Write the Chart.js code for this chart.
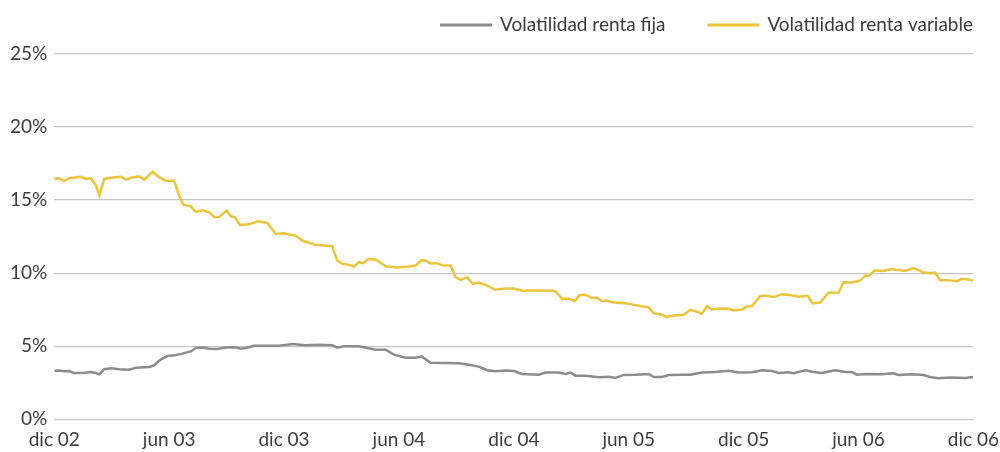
<!DOCTYPE html>
<html>
<head>
<meta charset="utf-8">
<script src="https://cdn.jsdelivr.net/npm/chart.js@4"></script>
<style>
  html, body { margin: 0; padding: 0; background: #fff; }
  #wrap { width: 1000px; height: 452px; }
</style>
</head>
<body>
<div id="wrap"><canvas id="volChart"></canvas></div>
<script>
// months counted from dic 02 (0) to dic 06 (48)
const tickLabels = ['dic 02', 'jun 03', 'dic 03', 'jun 04', 'dic 04', 'jun 05', 'dic 05', 'jun 06', 'dic 06'];

const fijaMonths = [
  0, 0.26, 0.52, 0.78, 1.04, 1.48, 1.91, 2.18, 2.35, 2.61, 2.96, 3.39, 3.91, 4.26, 4.96, 5.22,
  5.57, 5.91, 6.26, 6.69, 7.13, 7.39, 7.74, 8.09, 8.52, 8.96, 9.48, 9.74, 10.0, 10.43, 11.04,
  11.74, 12.17, 12.43, 13.13, 13.83, 14.52, 14.78, 15.13, 15.91, 16.17, 16.78, 17.31, 17.74,
  18.35, 18.87, 19.18, 19.65, 20.43, 21.13, 21.56, 22.17, 22.61, 23.04, 23.57, 24.0, 24.43,
  25.3, 25.65, 26.35, 26.7, 26.96, 27.22, 27.74, 28.43, 28.96, 29.3, 29.74, 30.35, 31.04,
  31.3, 31.74, 32.09, 32.78, 33.22, 33.82, 34.52, 35.22, 35.74, 36.43, 36.96, 37.48, 37.83,
  38.35, 38.61, 39.22, 39.65, 40.09, 40.78, 41.3, 41.65, 41.91, 42.35, 43.22, 43.83, 44.09,
  44.78, 45.39, 45.74, 46.17, 46.87, 47.57, 48.0
];
const fijaValues = [
  3.32, 3.33, 3.28, 3.3, 3.16, 3.16, 3.23, 3.16, 3.07, 3.42, 3.48, 3.42, 3.39, 3.53, 3.57, 3.69,
  4.1, 4.32, 4.37, 4.49, 4.64, 4.87, 4.9, 4.83, 4.81, 4.9, 4.92, 4.83, 4.87, 5.03, 5.03,
  5.03, 5.1, 5.14, 5.06, 5.1, 5.06, 4.9, 5.0, 5.0, 4.92, 4.76, 4.76, 4.42,
  4.21, 4.21, 4.3, 3.87, 3.85, 3.83, 3.74, 3.6, 3.35, 3.28, 3.33, 3.3, 3.1,
  3.05, 3.19, 3.19, 3.1, 3.19, 2.98, 2.98, 2.87, 2.9, 2.82, 3.03, 3.05, 3.1,
  2.89, 2.89, 3.03, 3.05, 3.05, 3.19, 3.23, 3.32, 3.2, 3.21, 3.35, 3.3, 3.16,
  3.21, 3.14, 3.35, 3.23, 3.16, 3.35, 3.23, 3.23, 3.05, 3.1, 3.08, 3.14, 3.03,
  3.08, 3.03, 2.89, 2.8, 2.85, 2.82, 2.89
];

const variableMonths = [
  0, 0.26, 0.52, 0.78, 1.39, 1.65, 1.91, 2.18, 2.35, 2.61, 2.96, 3.48, 3.77, 4.0, 4.43, 4.7,
  5.13, 5.48, 5.83, 6.26, 6.52, 6.73, 7.13, 7.39, 7.74, 8.09, 8.38, 8.61, 9.01, 9.22, 9.44,
  9.69, 10.17, 10.64, 11.13, 11.57, 12.0, 12.26, 12.61, 12.95, 13.57, 14.09, 14.52, 14.78,
  15.04, 15.39, 15.65, 15.91, 16.12, 16.4, 16.78, 17.31, 17.91, 18.43, 18.87, 19.18, 19.39,
  19.65, 20.0, 20.26, 20.7, 20.96, 21.22, 21.56, 21.86, 22.17, 22.52, 23.04, 23.57, 24.0,
  24.43, 24.95, 25.48, 26.09, 26.26, 26.52, 26.87, 27.18, 27.43, 27.74, 28.08, 28.35, 28.61,
  28.87, 29.13, 29.83, 30.35, 31.04, 31.3, 31.74, 32.0, 32.35, 32.87, 33.22, 33.48, 33.82,
  34.09, 34.35, 34.87, 35.22, 35.48, 35.91, 36.17, 36.43, 36.87, 37.13, 37.57, 38.0, 38.35,
  38.87, 39.35, 39.6, 40.0, 40.43, 40.96, 41.22, 41.65, 42.09, 42.35, 42.57, 42.83, 43.3,
  43.65, 44.09, 44.43, 44.87, 45.13, 45.39, 45.74, 46.0, 46.26, 46.7, 47.13, 47.39, 47.74, 48.0
];
const variableValues = [
  16.48, 16.5, 16.3, 16.5, 16.6, 16.45, 16.5, 16.0, 15.35, 16.45, 16.53, 16.6, 16.4, 16.53, 16.62, 16.4,
  16.94, 16.55, 16.33, 16.33, 15.3, 14.69, 14.57, 14.2, 14.3, 14.16, 13.82, 13.85, 14.28, 13.89, 13.82,
  13.3, 13.34, 13.55, 13.43, 12.68, 12.73, 12.64, 12.57, 12.23, 11.95, 11.89, 11.84, 10.86,
  10.63, 10.57, 10.45, 10.75, 10.68, 10.97, 10.93, 10.47, 10.38, 10.43, 10.52, 10.88, 10.86,
  10.66, 10.68, 10.54, 10.52, 9.72, 9.54, 9.72, 9.27, 9.36, 9.2, 8.86, 8.95, 8.95,
  8.79, 8.81, 8.81, 8.79, 8.65, 8.24, 8.26, 8.08, 8.49, 8.52, 8.29, 8.31, 8.08,
  8.12, 8.01, 7.94, 7.81, 7.65, 7.26, 7.15, 6.99, 7.1, 7.15, 7.49, 7.4, 7.22,
  7.74, 7.51, 7.58, 7.56, 7.45, 7.5, 7.72, 7.74, 8.42, 8.47, 8.36, 8.56, 8.52,
  8.38, 8.45, 7.92, 7.99, 8.65, 8.67, 9.38, 9.36, 9.49, 9.81, 9.83, 10.18, 10.15,
  10.27, 10.22, 10.15, 10.34, 10.2, 10.04, 10.0, 10.04, 9.52, 9.52, 9.45, 9.61, 9.56, 9.47
];

const yTicks = [0, 5, 10, 15, 20, 25];

const GRAY = '#8c8c8c';
const YELLOW = '#ecc43c';
const TEXT = '#3c3c3c';
const FONT = 'Lato';

function toPoints(xs, ys) {
  return xs.map((x, i) => ({ x: x, y: ys[i] }));
}

// legend drawn by hand: line sample + label, right aligned in the top strip
const topLegend = {
  id: 'topLegend',
  afterDraw(chart) {
    const c = chart.ctx;
    const lineLen = 52, gap = 8, itemGap = 42, y = 25;
    c.save();
    c.font = '19px ' + FONT;
    c.textBaseline = 'middle';
    let right = 973;
    const items = chart.data.datasets.slice().reverse();
    items.forEach(ds => {
      const w = c.measureText(ds.label).width;
      const textX = right - w;
      c.fillStyle = TEXT;
      c.textAlign = 'left';
      c.fillText(ds.label, textX, y);
      c.strokeStyle = ds.borderColor;
      c.lineWidth = 3;
      c.beginPath();
      c.moveTo(textX - gap - lineLen, y);
      c.lineTo(textX - gap, y);
      c.stroke();
      right = textX - gap - lineLen - itemGap;
    });
    c.restore();
  }
};

const ctx = document.getElementById('volChart').getContext('2d');

new Chart(ctx, {
  type: 'line',
  data: {
    datasets: [
      {
        label: 'Volatilidad renta fija',
        data: toPoints(fijaMonths, fijaValues),
        borderColor: GRAY,
        backgroundColor: GRAY,
        borderWidth: 2.5,
        pointRadius: 0,
        tension: 0
      },
      {
        label: 'Volatilidad renta variable',
        data: toPoints(variableMonths, variableValues),
        borderColor: YELLOW,
        backgroundColor: YELLOW,
        borderWidth: 2.5,
        pointRadius: 0,
        tension: 0
      }
    ]
  },
  plugins: [topLegend],
  options: {
    responsive: true,
    maintainAspectRatio: false,
    animation: false,
    layout: { padding: { left: 3, right: 0, top: 54, bottom: 0 } },
    plugins: {
      tooltip: { enabled: false },
      legend: { display: false }
    },
    scales: {
      x: {
        type: 'linear',
        min: 0,
        max: 48,
        grid: { display: false },
        border: { display: false },
        afterBuildTicks: function(axis) {
          axis.ticks = tickLabels.map((_, i) => ({ value: i * 6 }));
        },
        ticks: {
          color: TEXT,
          font: { family: FONT, size: 19 },
          maxRotation: 0,
          autoSkip: false,
          padding: 1,
          callback: function(value) {
            return tickLabels[Math.round(value / 6)];
          }
        }
      },
      y: {
        min: 0,
        max: 25,
        afterBuildTicks: function(axis) {
          axis.ticks = yTicks.map(v => ({ value: v }));
        },
        grid: { color: '#c6c6c6', lineWidth: 1.2, drawTicks: false },
        border: { display: false },
        ticks: {
          color: TEXT,
          font: { family: FONT, size: 19 },
          padding: 7,
          callback: function(value) { return value + '%'; }
        }
      }
    }
  }
});
</script>
</body>
</html>
